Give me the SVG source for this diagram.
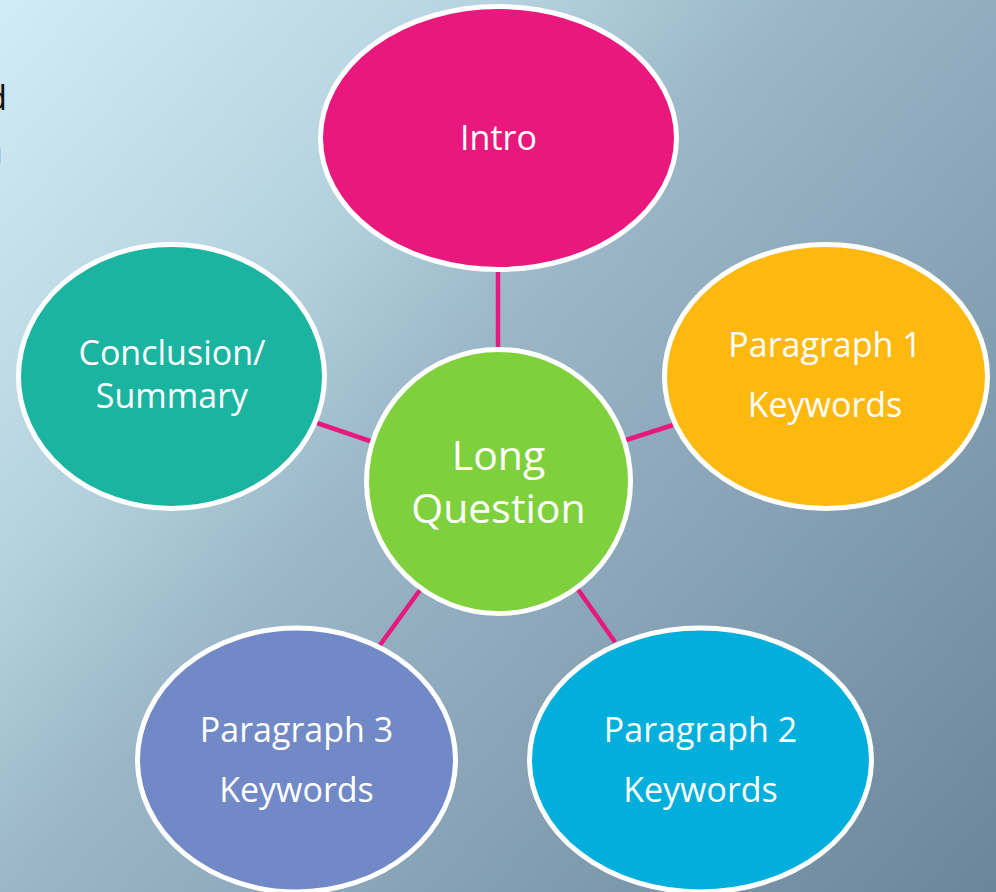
<svg xmlns="http://www.w3.org/2000/svg" width="996" height="892" viewBox="0 0 996 892">
  <defs>
    <linearGradient id="bg" x1="0" y1="0" x2="996" y2="892" gradientUnits="userSpaceOnUse">
      <stop offset="0" stop-color="#D2ECF5"/>
      <stop offset="0.28" stop-color="#B5D3DF"/>
      <stop offset="0.45" stop-color="#9AB6C7"/>
      <stop offset="1" stop-color="#6B869B"/>
    </linearGradient>
    <style>
      .node { stroke: #FFFFFF; stroke-width: 5; }
      .label { font-family: "Open Sans", "Liberation Sans", sans-serif; fill: #FFFFFF; text-anchor: middle; }
      .link { stroke: #E8197C; stroke-width: 4.5; stroke-linecap: butt; fill: none; }
    </style>
  </defs>

  <!-- backdrop -->
  <rect x="0" y="0" width="996" height="892" fill="url(#bg)"/>

  <!-- clipped letters at the left edge -->
  <text x="7" y="110" font-family="Open Sans, Liberation Sans, sans-serif" font-size="34" fill="#111111" text-anchor="end">d</text>
  <text x="3" y="163" font-family="Open Sans, Liberation Sans, sans-serif" font-size="34" fill="#9AA3A8" text-anchor="end">n</text>

  <!-- spokes from the hub to each satellite -->
  <g id="connectors">
    <line class="link" x1="498" y1="272" x2="498" y2="350"/>
    <line class="link" x1="623" y1="441" x2="673" y2="425"/>
    <line class="link" x1="317" y1="423" x2="373" y2="442"/>
    <line class="link" x1="420" y1="590" x2="380" y2="645"/>
    <line class="link" x1="577" y1="588" x2="615" y2="642"/>
  </g>

  <g id="intro">
    <ellipse class="node" cx="498.5" cy="138" rx="178" ry="131.5" fill="#E9187C"/>
    <text class="label" x="498.5" y="150" font-size="34">Intro</text>
  </g>

  <g id="paragraph1">
    <ellipse class="node" cx="826" cy="376.5" rx="161.5" ry="132" fill="#FDB910"/>
    <text class="label" x="825" y="357" font-size="34">Paragraph 1</text>
    <text class="label" x="825" y="417" font-size="34">Keywords</text>
  </g>

  <g id="conclusion">
    <ellipse class="node" cx="171.5" cy="376.5" rx="153" ry="132" fill="#1BB4A0"/>
    <text class="label" x="172" y="365" font-size="34">Conclusion/</text>
    <text class="label" x="172" y="408" font-size="34">Summary</text>
  </g>

  <g id="paragraph3">
    <ellipse class="node" cx="296.5" cy="760" rx="159" ry="132" fill="#7189C7"/>
    <text class="label" x="296.5" y="742" font-size="34">Paragraph 3</text>
    <text class="label" x="296.5" y="802" font-size="34">Keywords</text>
  </g>

  <g id="paragraph2">
    <ellipse class="node" cx="700.5" cy="760" rx="171" ry="132" fill="#02AEDC"/>
    <text class="label" x="700.5" y="742" font-size="34">Paragraph 2</text>
    <text class="label" x="700.5" y="802" font-size="34">Keywords</text>
  </g>

  <g id="long-question">
    <circle class="node" cx="498.5" cy="481.5" r="132" fill="#7ED13C"/>
    <text class="label" x="498.5" y="470" font-size="41">Long</text>
    <text class="label" x="498.5" y="523" font-size="41">Question</text>
  </g>
</svg>
